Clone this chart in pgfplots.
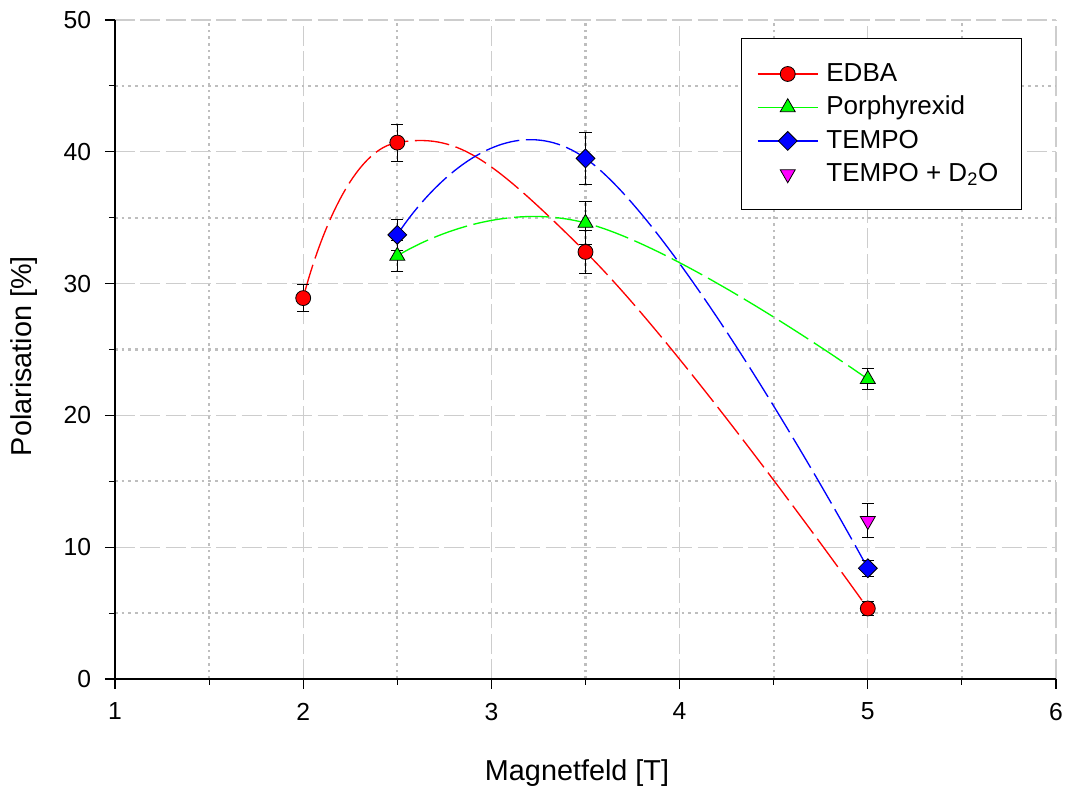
\documentclass[border=0pt]{standalone}
\usepackage{pgfplots}
\pgfplotsset{compat=1.18}
\usepackage{fontspec}
\setmainfont{Liberation Sans}
\definecolor{gridmaj}{RGB}{205,205,205}
\definecolor{gridmin}{RGB}{190,190,190}
\definecolor{mred}{RGB}{255,0,0}
\definecolor{mgreen}{RGB}{0,255,0}
\definecolor{mblue}{RGB}{0,0,255}
\definecolor{mmag}{RGB}{255,0,255}
\begin{document}
\fontsize{18.5}{22}\selectfont
\begin{tikzpicture}
\useasboundingbox (-86.25pt,-81pt) rectangle (713.25pt,509.25pt);
\begin{axis}[
  scale only axis, width=705.75pt, height=494.25pt,
  xmin=1, xmax=6, ymin=0, ymax=50,
  xtick={1,2,3,4,5,6}, ytick={0,10,20,30,40,50},
  minor xtick={1.5,2.5,3.5,4.5,5.5}, minor ytick={5,15,25,35,45},
  axis x line*=bottom, axis y line*=left,
  axis line style={-, black, line width=0.8pt},
  tick align=outside,
  major tick length=7.5pt, minor tick length=4.5pt,
  tick style={black, line width=0.8pt},
  grid=both,
  major grid style={gridmaj, line width=0.9pt, dash pattern=on 15pt off 4pt},
  minor grid style={gridmin, line width=1.6pt, dash pattern=on 2pt off 3pt},
  /pgf/number format/assume math mode=true,
  ticklabel style={font=\fontsize{18.5}{22}\selectfont},
  xticklabel style={yshift=-4pt},
  yticklabel style={xshift=-4pt},
  xlabel={Magnetfeld [T]}, ylabel={Polarisation [\%]},
  label style={font=\fontsize{21.6}{25}\selectfont},
  xlabel style={at={(axis description cs:0.491,-0.1426)}, anchor=center},
  ylabel style={at={(axis description cs:-0.0967,0.49)}, anchor=center},
  legend style={at={(0.964,0.9727)}, anchor=north east, draw=black, line width=0.8pt,
     font=\fontsize{19.5}{23}\selectfont, inner xsep=11.5pt, inner ysep=16.5pt,
     row sep=4.5pt, legend cell align=left, fill=white,
     nodes={inner xsep=6pt}},
  legend image code/.code={\draw[mark repeat=2,mark phase=2,#1,solid] plot coordinates {(0pt,0pt) (22.5pt,0pt) (45pt,0pt)};},
  error bars/y dir=both, error bars/y explicit,
  error bars/error bar style={black, solid, line width=0.75pt},
  error bars/error mark options={rotate=90, mark size=4.6pt, black, solid, line width=0.75pt},
]
\addplot[mred, line width=1pt, smooth, tension=0.75, dash pattern=on 26pt off 5pt,
  mark=*, mark size=5.6pt, mark options={solid, fill=mred, draw=black, line width=0.6pt}]
  coordinates {(2,28.9) +- (0,1.0) (2.5,40.7) +- (0,1.4) (3.5,32.4) +- (0,1.6) (5,5.35) +- (0,0.5)};
\addlegendentry{EDBA}
\addplot[mgreen, line width=1pt, smooth, tension=0.75, dash pattern=on 26pt off 5pt,
  mark=triangle*, mark size=6.5pt, mark options={solid, fill=mgreen, draw=black, line width=0.6pt}]
  coordinates {(2.5,32.1) +- (0,1.2) (3.5,34.6) +- (0,1.6) (5,22.75) +- (0,0.8)};
\addlegendentry{Porphyrexid}
\addplot[mblue, line width=1pt, smooth, tension=0.75, dash pattern=on 26pt off 5pt,
  mark=square*, mark size=5pt, mark options={solid, rotate=45, fill=mblue, draw=black, line width=0.6pt}]
  coordinates {(2.5,33.7) +- (0,1.2) (3.5,39.5) +- (0,2.0) (5,8.4) +- (0,0.6)};
\addlegendentry{TEMPO}
\addplot[mmag, only marks,
  mark=triangle*, mark size=6.5pt, mark options={solid, rotate=180, fill=mmag, draw=black, line width=0.6pt}]
  coordinates {(5,12.0) +- (0,1.3)};
\addlegendentry{TEMPO + D\textsubscript{2}O}
\end{axis}
\end{tikzpicture}
\end{document}
